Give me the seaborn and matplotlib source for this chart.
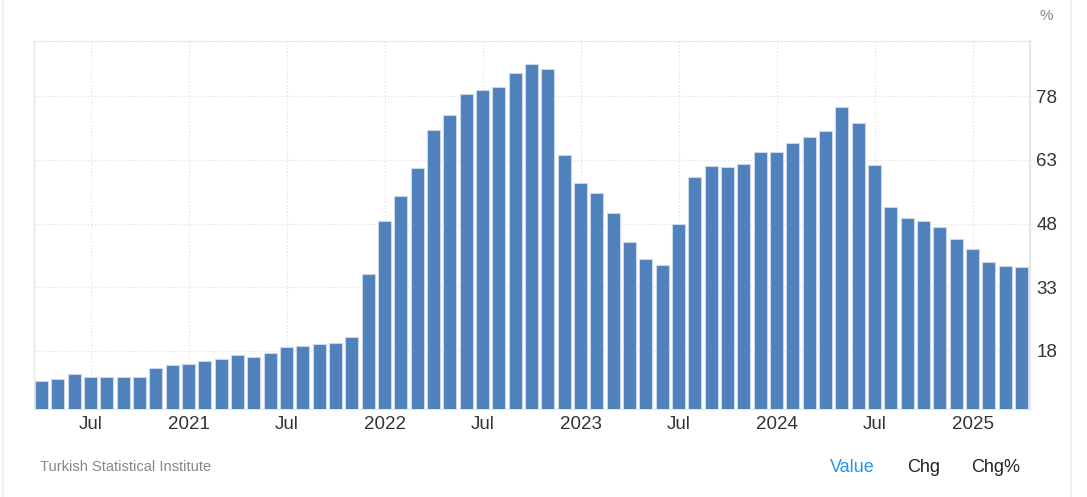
import matplotlib
matplotlib.use("Agg")
import matplotlib.pyplot as plt
import matplotlib.lines as mlines
import seaborn as sns
import pandas as pd

# ---- data ----
months = [
    "2020-04", "2020-05", "2020-06", "2020-07", "2020-08", "2020-09", "2020-10", "2020-11", "2020-12",
    "2021-01", "2021-02", "2021-03", "2021-04", "2021-05", "2021-06", "2021-07", "2021-08", "2021-09",
    "2021-10", "2021-11", "2021-12",
    "2022-01", "2022-02", "2022-03", "2022-04", "2022-05", "2022-06", "2022-07", "2022-08", "2022-09",
    "2022-10", "2022-11", "2022-12",
    "2023-01", "2023-02", "2023-03", "2023-04", "2023-05", "2023-06", "2023-07", "2023-08", "2023-09",
    "2023-10", "2023-11", "2023-12",
    "2024-01", "2024-02", "2024-03", "2024-04", "2024-05", "2024-06", "2024-07", "2024-08", "2024-09",
    "2024-10", "2024-11", "2024-12",
    "2025-01", "2025-02", "2025-03", "2025-04",
]
inflation = [
    10.94, 11.39, 12.62, 11.76, 11.77, 11.75, 11.89, 14.03, 14.60,
    14.97, 15.61, 16.19, 17.14, 16.59, 17.53, 18.95, 19.25, 19.58,
    19.89, 21.31, 36.08,
    48.69, 54.44, 61.14, 69.97, 73.50, 78.62, 79.60, 80.21, 83.45,
    85.51, 84.39, 64.27,
    57.68, 55.18, 50.51, 43.68, 39.59, 38.21, 47.83, 58.94, 61.53,
    61.36, 61.98, 64.77,
    64.86, 67.07, 68.50, 69.80, 75.45, 71.60, 61.78, 51.97, 49.38,
    48.58, 47.09, 44.38,
    42.12, 39.05, 38.10, 37.86,
]
tick_months = ["2020-07", "2021-01", "2021-07", "2022-01", "2022-07",
               "2023-01", "2023-07", "2024-01", "2024-07", "2025-01"]
tick_labels = ["Jul", "2021", "Jul", "2022", "Jul", "2023", "Jul", "2024", "Jul", "2025"]
y_ticks = [18, 33, 48, 63, 78]

df = pd.DataFrame({"month": months, "value": inflation})

# ---- style ----
sns.set_theme(style="white")
plt.rcParams["font.family"] = ["Liberation Sans", "DejaVu Sans"]

fig = plt.figure(figsize=(10.87, 4.97), dpi=100)
ax = fig.add_axes([34 / 1087, 1 - 409.3 / 497, (1030 - 34) / 1087, (409.3 - 40.7) / 497])

sns.barplot(data=df, x="month", y="value", order=months, color="#4f81bd",
            saturation=1, width=0.8, edgecolor="#c9d7ea", linewidth=0.8, ax=ax,
            zorder=3)

ax.set_xlim(-0.46, len(months) - 1 + 0.52)
ax.set_ylim(4.25, 91.1)

tick_pos = [months.index(m) for m in tick_months]
ax.set_xticks(tick_pos)
ax.set_xticklabels(tick_labels)
ax.set_yticks(y_ticks)
ax.set_yticklabels([str(v) for v in y_ticks])

ax.yaxis.tick_right()
ax.tick_params(axis="y", length=0, pad=4.5, labelsize=13.5, labelcolor="#333333")
ax.tick_params(axis="x", length=0, pad=4.5, labelsize=13.5, labelcolor="#333333")
for lab in ax.get_yticklabels():
    lab.set_horizontalalignment("left")

ax.grid(True, axis="both", linestyle=(0, (1, 2)), color="#dcdcdc", linewidth=0.8, zorder=0)
ax.set_axisbelow(True)
ax.set_xlabel("")
ax.set_ylabel("")

for side in ["left", "right", "bottom"]:
    ax.spines[side].set_visible(True)
    ax.spines[side].set_color("#e6e6e6")
    ax.spines[side].set_linewidth(1.0)
ax.spines["right"].set_linewidth(1.5)
ax.spines["top"].set_visible(True)
ax.spines["top"].set_color("#dcdcdc")
ax.spines["top"].set_linestyle((0, (1, 2)))
ax.spines["top"].set_linewidth(0.8)

# outer frame lines
fig.add_artist(mlines.Line2D([3 / 1087, 3 / 1087], [0, 1], color="#efefef", lw=1.2))
fig.add_artist(mlines.Line2D([1071 / 1087, 1071 / 1087], [0, 1], color="#efefef", lw=1.2))

# texts
fig.text(1046 / 1087, 1 - 16 / 497, "%", ha="center", va="center", fontsize=11, color="#888888")
fig.text(40 / 1087, 1 - 467 / 497, "Turkish Statistical Institute", ha="left", va="center",
         fontsize=10.5, color="#888888")
fig.text(852 / 1087, 1 - 467 / 497, "Value", ha="center", va="center", fontsize=13, color="#2196f3")
fig.text(924 / 1087, 1 - 467 / 497, "Chg", ha="center", va="center", fontsize=13, color="#222222")
fig.text(996 / 1087, 1 - 467 / 497, "Chg%", ha="center", va="center", fontsize=13, color="#222222")

fig.savefig("out.png", dpi=100, facecolor="white")
